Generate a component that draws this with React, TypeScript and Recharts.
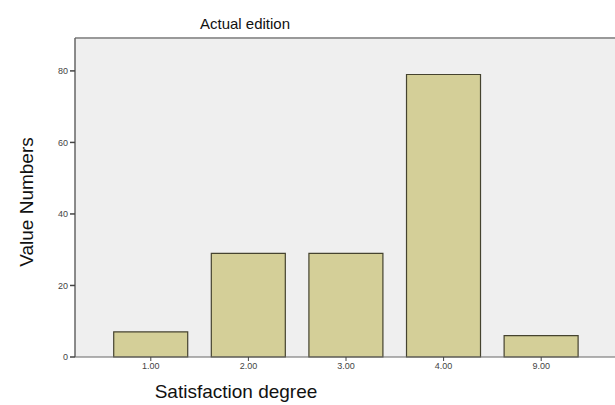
import React from 'react';
import { BarChart, Bar, XAxis, YAxis, CartesianGrid, ReferenceLine } from 'recharts';

const categories = ['1.00', '2.00', '3.00', '4.00', '9.00'];
const counts = [7, 29, 29, 79, 6];
const yTicks = [0, 20, 40, 60, 80];

const data = categories.map((c, i) => ({ degree: c, count: counts[i] }));

const font = '"Liberation Sans Narrow", "Liberation Sans", Arial, sans-serif';
const tickStyle = { fontSize: 9, fill: '#444', fontFamily: '"Liberation Sans", Arial, sans-serif' };

const App: React.FC = () => {
  return (
    <div style={{ position: 'absolute', left: 0, top: 0, width: 615, height: 405, background: '#fff' }}>
      <BarChart
        width={615}
        height={405}
        data={data}
        margin={{ top: 38, right: 0, bottom: 0, left: 0 }}
        barCategoryGap="12%"
      >
        <CartesianGrid fill="#efefef" horizontal={false} vertical={false} />
        <XAxis
          dataKey="degree"
          height={48}
          padding={{ left: 27, right: 25 }}
          tick={tickStyle}
          tickSize={4}
          stroke="#666"
          tickLine={{ stroke: '#444' }}
        />
        <YAxis
          width={75}
          domain={[0, 89.2]}
          ticks={yTicks}
          tick={tickStyle}
          tickSize={5}
          stroke="#666"
          strokeWidth={1.5}
          tickLine={{ stroke: '#444' }}
        />
        <ReferenceLine y={89.2} stroke="#999" strokeWidth={2} />
        <Bar dataKey="count" fill="#d4cf98" stroke="#45432f" strokeWidth={1.2} isAnimationActive={false} />
      </BarChart>
      <div style={{ position: 'absolute', left: 245, top: 23, transform: 'translate(-50%, -50%)', fontFamily: font, fontSize: 15, color: '#111', whiteSpace: 'nowrap' }}>
        Actual edition
      </div>
      <div style={{ position: 'absolute', left: 27, top: 202, transform: 'translate(-50%, -50%) rotate(-90deg)', fontFamily: font, fontSize: 19, color: '#111', whiteSpace: 'nowrap' }}>
        Value Numbers
      </div>
      <div style={{ position: 'absolute', left: 236, top: 392, transform: 'translate(-50%, -50%)', fontFamily: font, fontSize: 19, color: '#111', whiteSpace: 'nowrap' }}>
        Satisfaction degree
      </div>
    </div>
  );
};

export default App;
